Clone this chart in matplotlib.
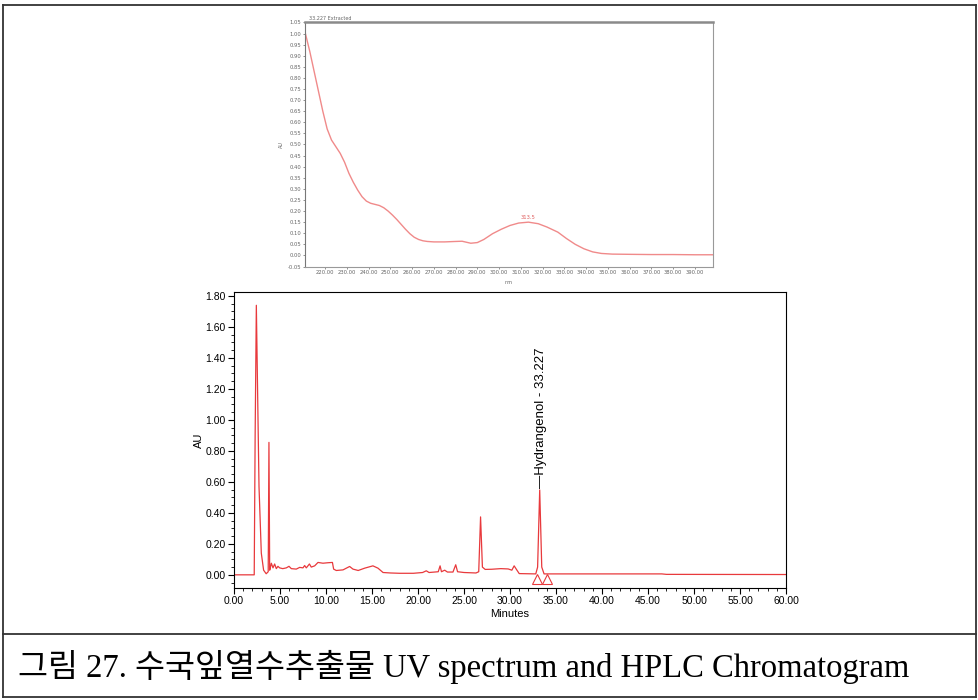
import numpy as np
import matplotlib.pyplot as plt
from matplotlib.lines import Line2D
from matplotlib.ticker import MultipleLocator, FormatStrFormatter

# UV spectrum of the hydrangenol peak (wavelength nm, AU)
wl = [211, 213, 215, 217, 219, 221, 223, 225, 227, 229, 231, 233, 235, 237, 239,
      241, 243, 245, 247, 249, 251, 253, 255, 257, 259, 261, 263, 265, 267, 270,
      275, 280, 283, 287, 290, 293, 297, 301, 305, 309, 313.5, 318, 322, 327, 331,
      335, 339, 343, 347, 352, 360, 370, 380, 390, 398]
uv_au = [1.00, 0.92, 0.83, 0.74, 0.65, 0.57, 0.52, 0.49, 0.46, 0.42, 0.37, 0.33, 0.295,
         0.265, 0.245, 0.235, 0.23, 0.225, 0.215, 0.2, 0.182, 0.162, 0.14, 0.118,
         0.098, 0.082, 0.072, 0.066, 0.063, 0.061, 0.061, 0.063, 0.064, 0.055, 0.058,
         0.072, 0.098, 0.118, 0.135, 0.146, 0.150, 0.143, 0.128, 0.105, 0.076, 0.050,
         0.030, 0.016, 0.009, 0.006, 0.005, 0.004, 0.004, 0.003, 0.003]
uv_peak = 313.5

# HPLC chromatogram (minutes, AU)
t_min = [0, 2.2, 2.3, 2.43, 2.6, 2.72, 2.97, 3.22, 3.5, 3.72, 3.8, 3.88, 3.95, 4.06,
         4.24, 4.42, 4.6, 4.78, 4.96, 5.3, 5.69, 5.98, 6.23, 6.77, 7.14, 7.5, 7.68,
         7.86, 8.2, 8.4, 8.77, 9.13, 9.67, 10.2, 10.7, 10.83, 11.12, 11.85, 12.57,
         12.93, 13.5, 14.2, 15.1, 15.65, 16.2, 17.0, 18.0, 19.5, 20.5, 20.9, 21.2,
         21.8, 22.2, 22.4, 22.55, 22.9, 23.2, 23.8, 24.1, 24.3, 25.0, 26.3, 26.6,
         26.8, 27.0, 27.3, 28.0, 29.0, 29.8, 30.2, 30.45, 30.7, 31.0, 32.8, 33.0,
         33.227, 33.45, 33.7, 40.0, 46.5, 47.0, 60.0]
au = [0.0, 0.0, 0.9, 1.74, 1.05, 0.57, 0.14, 0.03, 0.007, 0.02, 0.855, 0.03, 0.045,
      0.075, 0.045, 0.07, 0.04, 0.055, 0.045, 0.04, 0.045, 0.055, 0.04, 0.037, 0.048,
      0.045, 0.06, 0.045, 0.07, 0.05, 0.058, 0.08, 0.075, 0.078, 0.08, 0.037, 0.028,
      0.032, 0.054, 0.037, 0.028, 0.043, 0.058, 0.043, 0.015, 0.012, 0.01, 0.01,
      0.015, 0.026, 0.015, 0.018, 0.02, 0.058, 0.02, 0.03, 0.018, 0.018, 0.065, 0.02,
      0.015, 0.012, 0.02, 0.374, 0.05, 0.035, 0.036, 0.04, 0.038, 0.03, 0.058, 0.035,
      0.008, 0.006, 0.05, 0.548, 0.05, 0.006, 0.006, 0.006, 0.003, 0.002]
peak_name = "Hydrangenol - 33.227"
peak_rt = 33.227
marks_t = [32.95, 34.05]

fig = plt.figure(figsize=(9.79, 7), dpi=100)

# ---------------- UV spectrum ----------------
ax1 = fig.add_axes([0.3115, 0.6186, 0.4168, 0.35])
ax1.plot(wl, uv_au, color="#f08a8a", lw=1.0)
ax1.set_xlim(210.8, 398.3)
ax1.set_ylim(-0.052, 1.052)
ax1.yaxis.set_major_locator(MultipleLocator(0.05))
ax1.xaxis.set_major_formatter(FormatStrFormatter("%.2f"))
ax1.yaxis.set_major_formatter(FormatStrFormatter("%.2f"))
ax1.set_xticks(np.arange(220, 391, 10))
ax1.tick_params(labelsize=3.8, length=1.5, width=0.5, colors="#666", pad=1)
for s in ax1.spines.values():
    s.set_color("#999")
    s.set_linewidth(0.8)
ax1.spines["top"].set_linewidth(1.8)
ax1.spines["top"].set_color("#8a8a8a")
ax1.spines["left"].set_color("#777")
ax1.text(uv_peak, 0.158, "%.1f" % uv_peak, color="#e06060", fontsize=3.8,
         ha="center", va="bottom")
ax1.text(0.01, 1.005, "33.227 Extracted", transform=ax1.transAxes, fontsize=3.5,
         color="#666", va="bottom")
ax1.set_ylabel("AU", fontsize=3.5, color="#666", labelpad=3)
ax1.set_xlabel("nm", fontsize=3.5, color="#666", labelpad=3)

# ---------------- HPLC chromatogram ----------------
ax2 = fig.add_axes([0.239, 0.16, 0.5639, 0.4229])
ax2.plot(t_min, au, color="#e8393c", lw=0.9)
ax2.plot(marks_t, [-0.03] * len(marks_t), ls="none", marker="^", ms=7,
         mfc="none", mec="#e8393c", mew=0.8)
ax2.text(peak_rt + 0.1, au[t_min.index(peak_rt)] + 0.01, "\u2014" + peak_name,
         rotation=90, ha="center", va="bottom", fontsize=9.5,
         family=["Liberation Sans", "DejaVu Sans"])
ax2.set_xlim(0, 60)
ax2.set_ylim(-0.085, 1.826)
ax2.xaxis.set_major_locator(MultipleLocator(5))
ax2.xaxis.set_minor_locator(MultipleLocator(1))
ax2.yaxis.set_major_locator(MultipleLocator(0.2))
ax2.yaxis.set_minor_locator(MultipleLocator(0.05))
ax2.xaxis.set_major_formatter(FormatStrFormatter("%.2f"))
ax2.yaxis.set_major_formatter(FormatStrFormatter("%.2f"))
ax2.tick_params(which="major", length=4, width=0.8, labelsize=7.5, pad=2)
ax2.tick_params(which="minor", length=2, width=0.6)
for lab in ax2.get_xticklabels() + ax2.get_yticklabels():
    lab.set_family(["Liberation Sans", "DejaVu Sans"])
ax2.set_xlabel("Minutes", fontsize=8, family=["Liberation Sans"], labelpad=2)
ax2.set_ylabel("AU", fontsize=8, family=["Liberation Sans"], labelpad=1)
for s in ax2.spines.values():
    s.set_linewidth(0.8)

# ---------------- frame and caption ----------------
W, H = 979.0, 700.0
frame = [((3, 5), (976, 5)), ((3, 697), (976, 697)), ((3, 5), (3, 697)),
         ((976, 5), (976, 697)), ((3, 634), (976, 634))]
for (x0, y0), (x1, y1) in frame:
    fig.add_artist(Line2D([x0 / W, x1 / W], [1 - y0 / H, 1 - y1 / H],
                          color="#333", lw=1.3))

fig.text(18 / W, 1 - 667 / H, "그림 27. 수국잎열수추출물 UV spectrum and HPLC Chromatogram",
         fontsize=23.5, va="center", ha="left",
         family=["Liberation Serif", "Noto Sans CJK KR"])

fig.savefig("out.png", dpi=100)
